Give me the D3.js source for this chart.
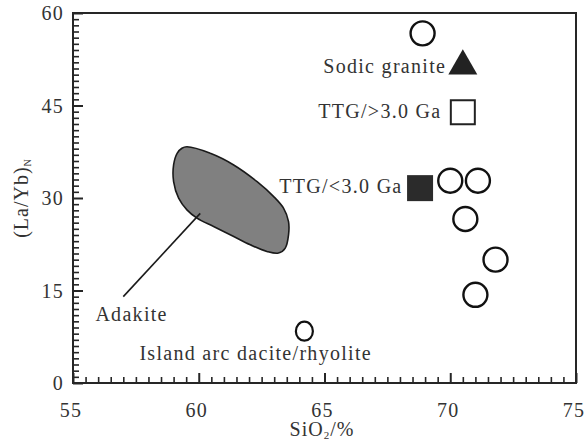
<!DOCTYPE html>
<html>
<head>
<meta charset="utf-8">
<script src="https://cdn.jsdelivr.net/npm/d3@7"></script>
<style>
  html, body { margin: 0; padding: 0; background: #fff; }
  svg { display: block; }
  text { font-family: "Liberation Serif", "Times New Roman", serif; fill: #333; }
</style>
</head>
<body>
<svg id="chart"></svg>
<script>
// samples (open circles)
const sampleSiO2 = [68.9, 70.0, 71.1, 70.6, 71.8, 71.0];
const sampleLaYb = [56.7, 32.8, 32.8, 26.6, 20.0, 14.3];

// island arc dacite/rhyolite (small open circle)
const arcSiO2 = [64.2];
const arcLaYb = [8.4];

// reference symbols
const sodicSiO2 = [70.5];
const sodicLaYb = [51.4];
const ttgOldSiO2 = [70.5];
const ttgOldLaYb = [43.9];
const ttgYoungSiO2 = [68.8];
const ttgYoungLaYb = [31.6];

// adakite field outline
const adakiteSiO2 = [59.53, 60.46, 61.39, 62.32, 62.98, 63.37, 63.57, 63.57, 63.44, 63.17, 62.71, 62.05, 61.39, 60.59, 59.93, 59.53, 59.2, 59.0, 59.0, 59.14, 59.33];
const adakiteLaYb = [38.3, 37.25, 35.36, 32.65, 30.23, 28.35, 26.18, 24.03, 21.88, 21.07, 21.33, 22.41, 23.75, 25.37, 26.73, 28.07, 29.97, 32.65, 35.36, 37.25, 38.06];

// pointer line from the Adakite label into the field
const pointerSiO2 = [57.0, 60.06];
const pointerLaYb = [14.0, 27.5];

// text labels (start point, data coords)
const labelText = ['Sodic granite', 'TTG/>3.0 Ga', 'TTG/<3.0 Ga', 'Adakite', 'Island arc dacite/rhyolite'];
const labelSiO2 = [64.95, 64.75, 63.2, 55.89, 57.64];
const labelLaYb = [50.2, 42.9, 30.8, 10.1, 3.8];

const xTicks = [55, 60, 65, 70, 75];
const yTicks = [0, 15, 30, 45, 60];

const width = 587, height = 440;
const margin = { top: 13, right: 11, bottom: 57, left: 73 };

const svg = d3.select('#chart').attr('width', width).attr('height', height);

const x = d3.scaleLinear().domain([55, 75]).range([margin.left, width - margin.right]);
const y = d3.scaleLinear().domain([0, 60]).range([height - margin.bottom, margin.top]);

const ink = '#262626';

// frame
svg.append('rect')
  .attr('x', x(55)).attr('y', y(60))
  .attr('width', x(75) - x(55)).attr('height', y(0) - y(60))
  .attr('fill', 'none').attr('stroke', ink).attr('stroke-width', 2);

// minor ticks (inward)
const xMinor = d3.range(55, 75.01, 0.5).filter(v => v % 5 !== 0);
const yMinor = d3.range(0, 60.01, 1).filter(v => v % 15 !== 0);

svg.append('g')
  .attr('transform', `translate(0,${y(0)})`)
  .call(d3.axisTop(x).tickValues(xMinor).tickSize(6).tickFormat(''))
  .call(g => g.select('.domain').remove())
  .call(g => g.selectAll('line').attr('stroke', ink).attr('stroke-width', 1.6));

svg.append('g')
  .attr('transform', `translate(${x(55)},0)`)
  .call(d3.axisRight(y).tickValues(yMinor).tickSize(6).tickFormat(''))
  .call(g => g.select('.domain').remove())
  .call(g => g.selectAll('line').attr('stroke', ink).attr('stroke-width', 1.6));

// major ticks
svg.append('g')
  .attr('transform', `translate(0,${y(0)})`)
  .call(d3.axisTop(x).tickValues(xTicks).tickSize(10).tickFormat(''))
  .call(g => g.select('.domain').remove())
  .call(g => g.selectAll('line').attr('stroke', ink).attr('stroke-width', 2));

svg.append('g')
  .attr('transform', `translate(${x(55)},0)`)
  .call(d3.axisRight(y).tickValues(yTicks).tickSize(10).tickFormat(''))
  .call(g => g.select('.domain').remove())
  .call(g => g.selectAll('line').attr('stroke', ink).attr('stroke-width', 2));

// tick labels
svg.append('g').selectAll('text')
  .data(xTicks)
  .join('text')
  .attr('x', d => x(d) - 2)
  .attr('y', 417)
  .attr('text-anchor', 'middle')
  .style('font-size', '20px')
  .style('letter-spacing', '1.3px')
  .text(d => d);

svg.append('g').selectAll('text')
  .data(yTicks)
  .join('text')
  .attr('x', 64)
  .attr('y', d => y(d) + 7)
  .attr('text-anchor', 'end')
  .style('font-size', '20px')
  .style('letter-spacing', '1.3px')
  .text(d => d);

// axis titles
const xt = svg.append('text')
  .attr('x', 322)
  .attr('y', 436)
  .attr('text-anchor', 'middle')
  .style('font-size', '20px')
  .style('letter-spacing', '1px');
xt.append('tspan').text('SiO');
xt.append('tspan').attr('dy', 3).style('font-size', '11px').text('2');
xt.append('tspan').attr('dy', -3).text('/%');

const yt = svg.append('text')
  .attr('transform', `translate(28,198) rotate(-90)`)
  .attr('text-anchor', 'middle')
  .style('font-size', '20px')
  .style('letter-spacing', '1px');
yt.append('tspan').text('(La/Yb)');
yt.append('tspan').attr('dy', 3).style('font-size', '10px').text('N');

// adakite field
const field = d3.range(adakiteSiO2.length).map(i => [adakiteSiO2[i], adakiteLaYb[i]]);
svg.append('path')
  .datum(field)
  .attr('d', d3.line().x(d => x(d[0])).y(d => y(d[1])).curve(d3.curveCatmullRomClosed))
  .attr('fill', '#808080')
  .attr('stroke', '#1a1a1a')
  .attr('stroke-width', 1.6);

svg.append('line')
  .attr('x1', x(pointerSiO2[0])).attr('y1', y(pointerLaYb[0]))
  .attr('x2', x(pointerSiO2[1])).attr('y2', y(pointerLaYb[1]))
  .attr('stroke', '#1a1a1a')
  .attr('stroke-width', 1.6);

// labels
svg.append('g').selectAll('text')
  .data(labelText)
  .join('text')
  .attr('x', (d, i) => x(labelSiO2[i]))
  .attr('y', (d, i) => y(labelLaYb[i]))
  .style('font-size', '20px')
  .style('letter-spacing', '1.3px')
  .text(d => d);

// samples
svg.append('g').selectAll('circle')
  .data(sampleSiO2)
  .join('circle')
  .attr('cx', d => x(d))
  .attr('cy', (d, i) => y(sampleLaYb[i]))
  .attr('r', 12)
  .attr('fill', 'none')
  .attr('stroke', '#111')
  .attr('stroke-width', 2.4);

svg.append('g').selectAll('ellipse')
  .data(arcSiO2)
  .join('ellipse')
  .attr('cx', d => x(d))
  .attr('cy', (d, i) => y(arcLaYb[i]))
  .attr('rx', 8.5)
  .attr('ry', 9.5)
  .attr('fill', 'none')
  .attr('stroke', '#111')
  .attr('stroke-width', 2.2);

// reference symbols
svg.append('g').selectAll('path')
  .data(sodicSiO2)
  .join('path')
  .attr('transform', (d, i) => `translate(${x(d)},${y(sodicLaYb[i])})`)
  .attr('d', d3.symbol(d3.symbolTriangle, 364))
  .attr('fill', '#222');

svg.append('g').selectAll('path')
  .data(ttgOldSiO2)
  .join('path')
  .attr('transform', (d, i) => `translate(${x(d)},${y(ttgOldLaYb[i])})`)
  .attr('d', d3.symbol(d3.symbolSquare, 576))
  .attr('fill', '#fff')
  .attr('stroke', '#222')
  .attr('stroke-width', 2);

svg.append('g').selectAll('path')
  .data(ttgYoungSiO2)
  .join('path')
  .attr('transform', (d, i) => `translate(${x(d)},${y(ttgYoungLaYb[i])})`)
  .attr('d', d3.symbol(d3.symbolSquare, 676))
  .attr('fill', '#2b2b2b');
</script>
</body>
</html>
